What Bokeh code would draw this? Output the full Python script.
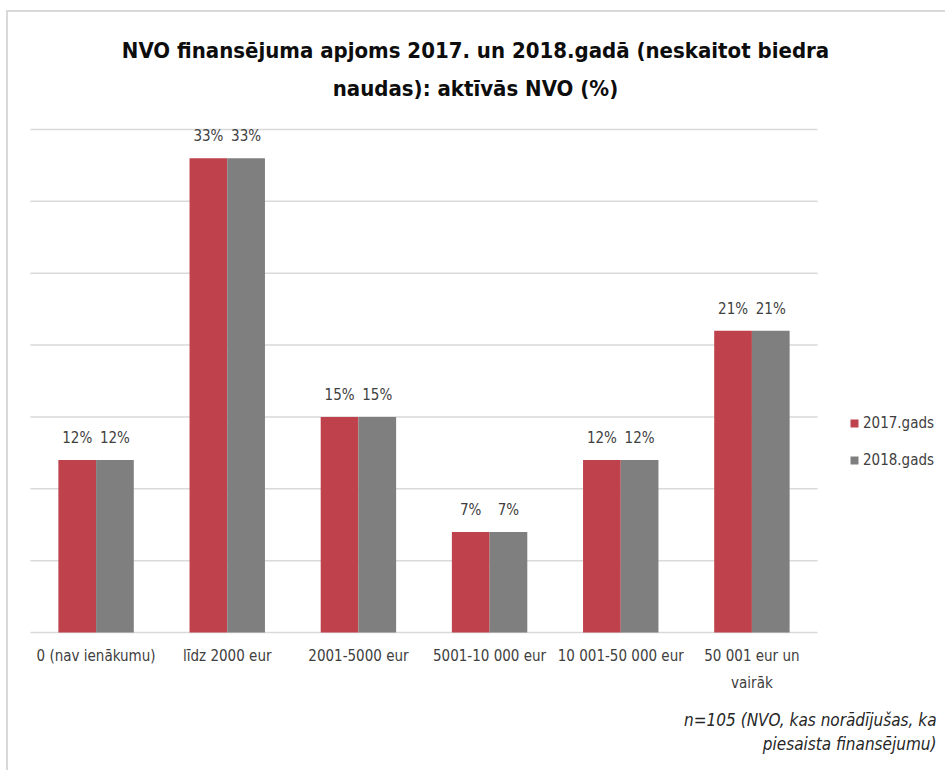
from bokeh.plotting import figure
from bokeh.models import Range1d, Label, Legend, LegendItem, ColumnDataSource
from bokeh.core.properties import value
from bokeh.embed import file_html
from bokeh.resources import INLINE

categories = ["0 (nav ienākumu)", "līdz 2000 eur", "2001-5000 eur", "5001-10 000 eur",
              "10 001-50 000 eur", "50 001 eur un\nvairāk"]
series_names = ["2017.gads", "2018.gads"]
values_2017 = [12, 33, 15, 7, 12, 21]
values_2018 = [12, 33, 15, 7, 12, 21]
title_lines = ["NVO finansējuma apjoms 2017. un 2018.gadā (neskaitot biedra",
               "naudas): aktīvās NVO (%)"]
note_lines = ["n=105 (NVO, kas norādījušas, ka", "piesaista finansējumu)"]
y_ticks = [0, 5, 10, 15, 20, 25, 30, 35]

FONT = "DejaVu Sans Condensed"
RED = "#BE414B"
GREY = "#7F7F7F"
TXT = "#404040"
GRID = "#d9d9d9"

# canvas / plot-area geometry (pixels)
W, H = 939, 760
PL, PR, PT, PB = 22, 809, 117, 620
YMAX = 35
ncat = len(categories)
ux = (PR - PL) / ncat
uy = (PB - PT) / YMAX

p = figure(width=W, height=H, output_backend="svg", toolbar_location=None,
           x_axis_location=None, y_axis_location=None, min_border=0,
           x_range=Range1d(-PL / ux, ncat + (W - PR) / ux),
           y_range=Range1d(-(H - PB) / uy, PB / uy))
p.styles = {"margin-left": "6px", "margin-top": "10px",
            "border-top": "2px solid #d9d9d9", "border-left": "2px solid #d9d9d9"}
p.outline_line_color = None
p.grid.visible = False

# gridlines (incl. baseline)
p.segment(x0=[0] * len(y_ticks), x1=[ncat] * len(y_ticks), y0=y_ticks, y1=y_ticks,
          line_color=GRID, line_width=1.5)

bw = 0.2875
idx = [i + 0.5 for i in range(ncat)]
src = ColumnDataSource(dict(
    x17=[c - bw / 2 for c in idx],
    x18=[c + bw / 2 for c in idx],
    xc=idx,
    cat=categories,
    v17=values_2017,
    v18=values_2018,
    l17=[f"{v}%" for v in values_2017],
    l18=[f"{v}%" for v in values_2018],
    zero=[0] * ncat,
))

r17 = p.vbar(x="x17", top="v17", width=bw, source=src, fill_color=RED, line_color=None)
r18 = p.vbar(x="x18", top="v18", width=bw, source=src, fill_color=GREY, line_color=None)

for xc, yc, lc in (("x17", "v17", "l17"), ("x18", "v18", "l18")):
    p.text(x=xc, y=yc, text=lc, source=src, text_align="center", text_baseline="middle",
           y_offset=-22, text_font=value(FONT), text_font_size="15px", text_color=TXT)

# category labels
p.text(x="xc", y="zero", text="cat", source=src, text_align="center", text_baseline="top",
       y_offset=14, text_font=value(FONT), text_font_size="15px", text_color=TXT,
       text_line_height=1.5)

for i, t in enumerate(title_lines):
    p.add_layout(Label(x=467, y=H - 38 - 38 * i, x_units="screen", y_units="screen", text=t,
                       text_align="center", text_baseline="middle", text_font=FONT,
                       text_font_size="22px", text_font_style="bold", text_color="#0d0d0d"))

for i, t in enumerate(note_lines):
    p.add_layout(Label(x=928, y=H - 707 - 24 * i, x_units="screen", y_units="screen", text=t,
                       text_align="right", text_baseline="middle", text_font=FONT,
                       text_font_size="17px", text_font_style="italic", text_color="#262626"))

legend = Legend(items=[LegendItem(label=series_names[0], renderers=[r17]),
                       LegendItem(label=series_names[1], renderers=[r18])],
                location=(841, H - 470 + 12), padding=0, margin=0, spacing=17,
                glyph_width=10, glyph_height=10, label_standoff=4, label_height=20,
                border_line_color=None, background_fill_alpha=0,
                label_text_font=FONT, label_text_font_size="15px", label_text_color=TXT)
p.add_layout(legend, "center")

open("out.html", "w").write(file_html(p, INLINE))
